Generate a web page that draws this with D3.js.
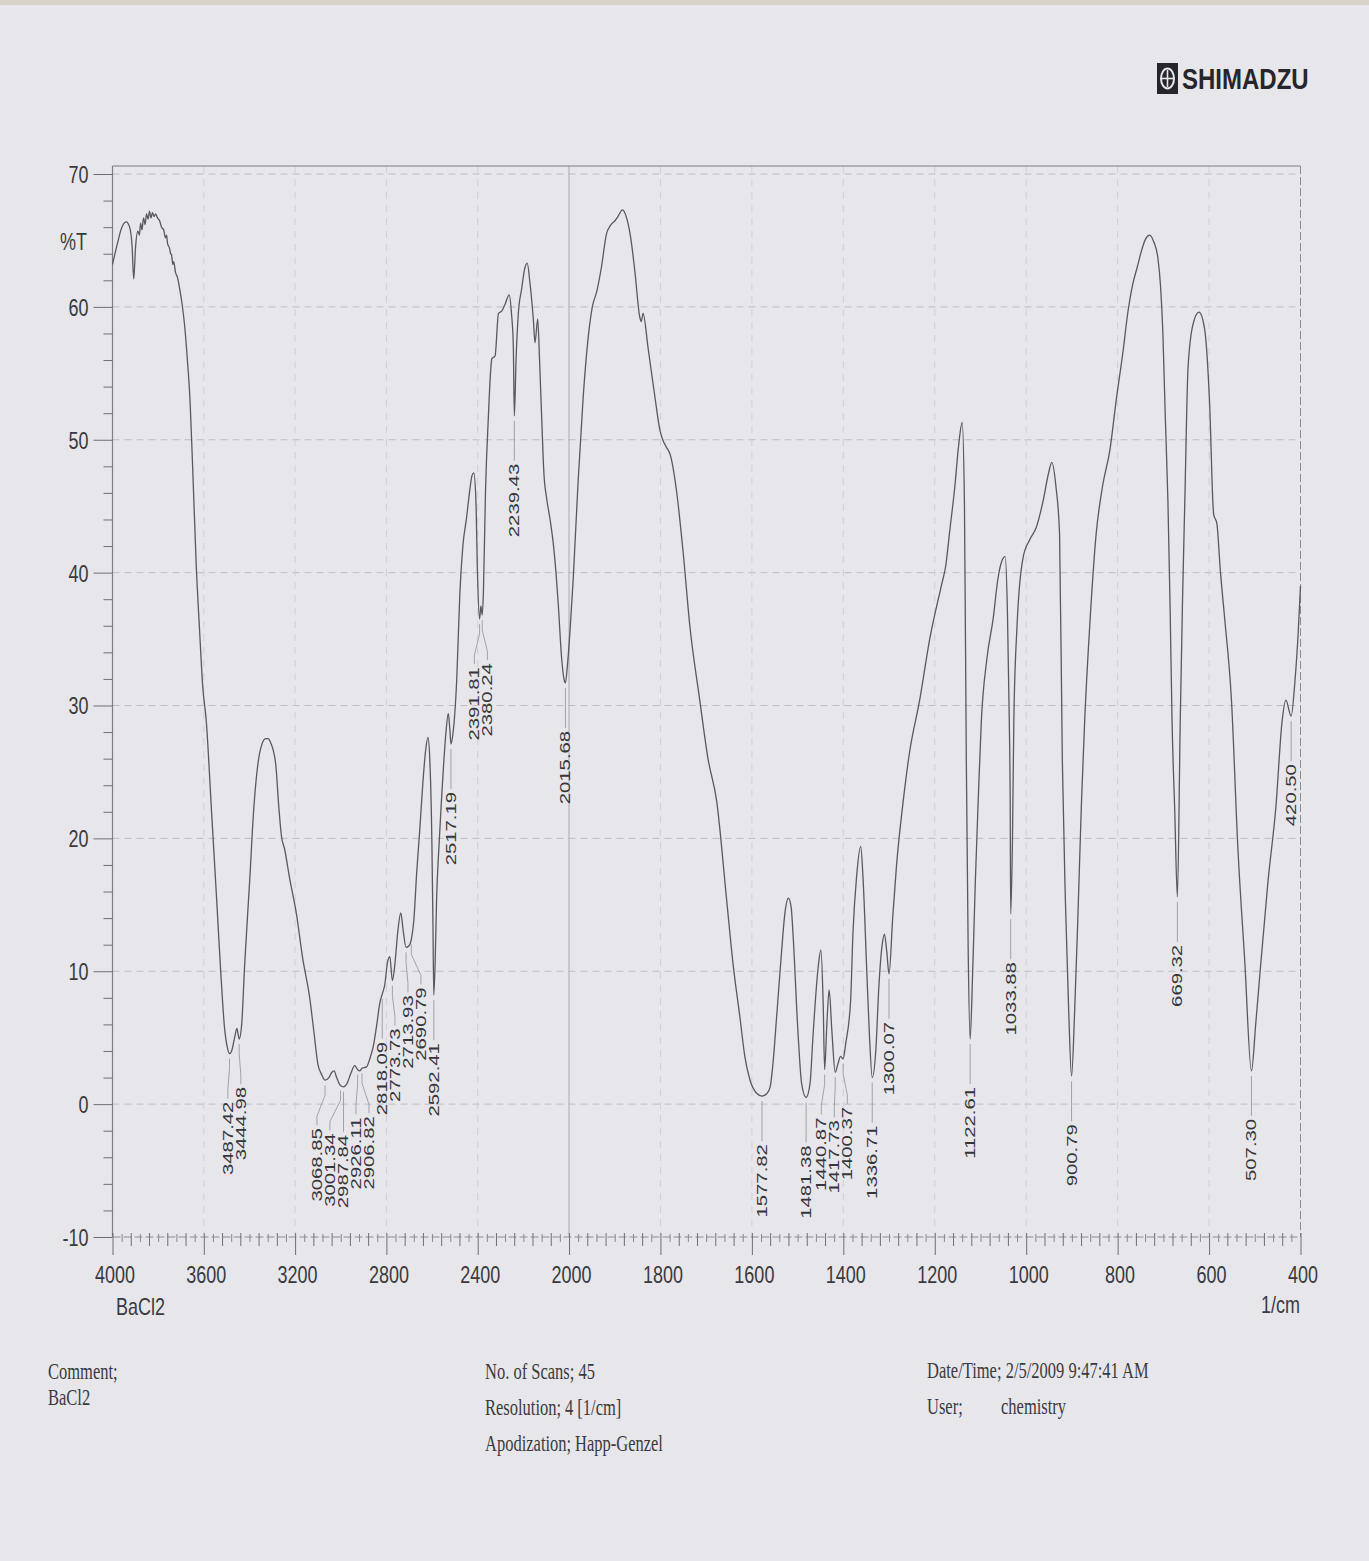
<!DOCTYPE html>
<html>
<head>
<meta charset="utf-8">
<script src="https://cdn.jsdelivr.net/npm/d3@7/dist/d3.min.js"></script>
<style>
  html, body { margin: 0; padding: 0; background: #e6e6ea; }
  svg { display: block; }
</style>
</head>
<body>
<svg id="chart" width="1369" height="1561"></svg>
<script>
// ---------- DATA ----------
const wavenumbers = [4000,3978,3961,3940,3925,3914,3907,3899,3889,3882,3877,3871,3864,3857,3851,3844,3838,3831,3825,3818,3811,3803,3794,3785,3776,3768,3763,3759,3750,3745,3741,3736,3732,3724,3715,3706,3695,3684,3671,3662,3649,3633,3618,3605,3589,3566,3545,3526,3509,3496,3487.42,3478,3465,3455,3444.98,3434,3421,3399,3382,3363,3347,3329,3319,3307,3285,3272,3260,3246,3224,3194,3167,3136,3118,3100,3083,3068.85,3052,3039,3029,3018,3001.34,2987.84,2974,2956,2939,2926.11,2917,2906.82,2887,2873,2858,2842,2829,2818.09,2807,2796,2785,2773.73,2763,2750,2737,2726,2713.93,2702,2690.79,2680,2667,2654,2641,2627,2618,2610,2601,2596,2592.41,2586,2580,2570,2560,2551,2539,2529,2522,2517.19,2509,2492,2478,2465,2449,2434,2425,2417,2408,2401,2391.81,2386,2380.24,2375,2366,2353,2344,2338,2324,2309,2294,2280,2262,2252,2244,2239.43,2232,2222,2207,2195,2183,2171,2156,2149,2137,2129,2120,2110,2098,2083,2069,2057,2047,2032,2022,2015.68,2007,1998,1991,1980,1969,1958,1949,1939,1929,1918,1910,1899,1893,1883,1874,1865,1856,1845,1842,1838,1827,1812,1801,1795,1788,1778,1765,1750,1736,1714,1696,1677,1655,1641,1626,1615,1604,1589,1577.82,1567,1560,1554,1546,1535,1528,1520,1514,1510,1499,1491,1481.38,1473,1466,1455,1449,1444,1440.87,1436,1431,1425,1417.73,1412,1406,1400.37,1395,1384,1379,1371,1362,1357,1349,1343,1336.71,1329,1322,1315,1310,1305,1300.07,1292,1284,1269,1255,1233,1211,1185,1176,1167,1156,1148,1140,1135,1131,1127,1122.61,1117,1111,1105,1098,1086,1072,1062,1054,1046,1041,1037,1035,1033.88,1030,1027,1020,1007,992,978,963,951,944,935,927,921,914,907,900.79,894,887,879,872,861,847,833,817,803,788,778,767,757,748,739,730,721,712,706,701,696,690,685,681,675,669.32,663,658,653,646,635,622,610,599,590,583,575,566,551,537,522,507.3,498,490,471,454,440,432,420.5,412,405,400];
const transmittance = [63.2,64.8,65.9,66.4,66.0,64.5,62.1,64.5,65.7,65.4,66.3,65.8,66.7,66.2,67.0,66.6,67.2,66.7,67.1,66.8,67.0,66.7,66.5,66.0,65.8,65.2,65.4,64.8,64.4,64.0,63.9,63.2,63.4,62.6,62.2,61.4,60.2,58.6,55.8,53.5,48.0,40.5,35.5,31.5,28.8,22.0,15.8,10.0,5.7,4.2,3.8,4.0,5.0,5.7,4.9,6.0,10.5,16.8,22.0,25.6,27.0,27.5,27.5,27.2,25.6,22.5,20.2,19.2,17.0,14.3,11.0,8.0,5.5,3.0,2.2,1.8,2.0,2.4,2.5,2.0,1.4,1.3,1.5,2.3,2.9,2.6,2.5,2.7,2.8,3.4,4.3,6.0,7.6,8.3,9.0,10.6,11.1,9.3,10.5,13.0,14.4,13.0,11.8,11.9,12.4,13.8,17.5,20.6,24.0,26.8,27.6,26.0,20.0,13.5,8.2,11.0,15.5,19.3,22.5,25.1,28.0,29.4,28.2,27.1,27.8,31.9,38.5,42.0,44.1,46.3,47.3,47.5,45.5,40.0,36.5,37.5,36.8,38.5,46.0,51.8,55.0,56.1,56.3,59.5,59.7,60.2,60.9,59.5,57.1,51.8,56.0,59.5,61.4,62.8,63.3,61.8,59.0,57.3,59.1,56.0,51.8,47.5,45.6,44.0,42.2,40.0,37.6,33.5,32.0,31.7,33.0,35.5,39.4,46.9,53.2,57.7,60.0,61.2,63.0,65.5,66.1,66.5,66.8,67.3,66.7,65.2,62.7,59.2,58.9,59.5,56.9,53.2,50.7,50.0,49.5,48.8,46.2,41.4,36.1,30.4,26.0,22.8,15.3,10.5,6.5,3.5,1.8,0.8,0.6,0.8,1.3,3.0,6.5,11.5,14.3,15.5,14.8,12.8,5.3,1.5,0.5,1.5,5.3,10.3,11.6,7.5,2.6,6.0,8.6,5.5,2.4,3.0,3.6,3.4,4.5,7.8,12.8,17.1,19.4,17.1,10.3,5.3,2.0,4.0,9.0,12.0,12.8,11.5,9.8,14.0,17.8,22.8,26.5,30.4,35.0,39.1,40.5,43.2,46.5,49.5,51.3,45.0,26.0,12.0,4.9,10.0,17.0,22.8,28.9,33.5,36.6,39.5,40.8,41.2,37.0,28.9,22.8,14.3,20.0,28.9,36.0,41.1,42.5,43.4,45.4,47.5,48.3,46.5,42.9,26.0,15.0,7.0,2.1,7.0,14.0,22.8,28.9,36.0,42.9,46.5,49.2,53.0,56.7,59.5,61.7,63.0,64.2,65.1,65.4,64.9,63.7,61.5,58.0,52.0,45.4,37.0,28.9,22.0,15.6,28.9,38.0,45.4,55.4,58.7,59.6,58.4,52.9,44.4,43.7,40.0,36.6,30.4,19.3,10.8,2.5,6.0,9.3,16.8,22.3,28.9,30.4,29.2,31.9,35.5,39.0];

const peakWavenumbers = [3487.42,3444.98,3068.85,3001.34,2987.84,2926.11,2906.82,2818.09,2773.73,2713.93,2690.79,2592.41,2517.19,2391.81,2380.24,2239.43,2015.68,1577.82,1481.38,1440.87,1417.73,1400.37,1336.71,1300.07,1122.61,1033.88,900.79,669.32,507.30,420.50];
const peakLabels = ["3487.42","3444.98","3068.85","3001.34","2987.84","2926.11","2906.82","2818.09","2773.73","2713.93","2690.79","2592.41","2517.19","2391.81","2380.24","2239.43","2015.68","1577.82","1481.38","1440.87","1417.73","1400.37","1336.71","1300.07","1122.61","1033.88","900.79","669.32","507.30","420.50"];

const xTickValues = [4000,3600,3200,2800,2400,2000,1800,1600,1400,1200,1000,800,600,400];
const yTickValues = [-10,0,10,20,30,40,50,60,70];

const infoLeft = ["Comment;", "BaCl2"];
const infoMid = [["No. of Scans;", "45"], ["Resolution;", "4 [1/cm]"], ["Apodization;", "Happ-Genzel"]];
const infoRight = [["Date/Time;", "2/5/2009 9:47:41 AM"], ["User;", "chemistry"]];

// ---------- LAYOUT ----------
const svg = d3.select("#chart");
const left = 112.5, right = 1300.5, frameTop = 166, bottom = 1237;
const x = d3.scaleLinear().domain([4000, 2000, 400]).range([left, 569, right]);
const y = d3.scaleLinear().domain([-10, 70]).range([bottom, 174]);

const SANS = "'Liberation Sans', Arial, sans-serif";
const SERIF = "'Liberation Serif', 'Times New Roman', serif";
const K = 1.3; // vertical stretch of the scanned print
const plain = d => String(d);

svg.append("rect").attr("width", 1369).attr("height", 1561).attr("fill", "#e7e7eb");
svg.append("rect").attr("width", 1369).attr("height", 5).attr("fill", "#d8d4cc");

// ---------- grid ----------
const grid = svg.append("g");
grid.selectAll("line.h").data(yTickValues.filter(v => v > -10)).join("line")
  .attr("x1", left).attr("x2", right)
  .attr("y1", d => y(d)).attr("y2", d => y(d))
  .attr("stroke", "#bdbdc2").attr("stroke-width", 1).attr("stroke-dasharray", "7,5");
grid.selectAll("line.v").data(xTickValues.filter(v => v !== 4000 && v !== 2000 && v !== 400)).join("line")
  .attr("x1", d => x(d)).attr("x2", d => x(d))
  .attr("y1", frameTop).attr("y2", bottom)
  .attr("stroke", "#cfcfd4").attr("stroke-width", 1).attr("stroke-dasharray", "7,6");
grid.append("line").attr("x1", x(2000)).attr("x2", x(2000)).attr("y1", frameTop).attr("y2", bottom)
  .attr("stroke", "#a9a9ae").attr("stroke-width", 1);

// ---------- frame ----------
svg.append("line").attr("x1", left).attr("x2", right).attr("y1", frameTop).attr("y2", frameTop)
  .attr("stroke", "#7d7d82").attr("stroke-width", 1.2);
svg.append("line").attr("x1", left).attr("x2", left).attr("y1", frameTop).attr("y2", bottom)
  .attr("stroke", "#7d7d82").attr("stroke-width", 1.2);
svg.append("line").attr("x1", right).attr("x2", right).attr("y1", frameTop).attr("y2", bottom)
  .attr("stroke", "#8c8c91").attr("stroke-width", 1).attr("stroke-dasharray", "8,3");
svg.append("line").attr("x1", left).attr("x2", right).attr("y1", bottom).attr("y2", bottom)
  .attr("stroke", "#8c8c91").attr("stroke-width", 1).attr("stroke-dasharray", "8,3");

// ---------- axes ----------
function styleAxis(g) {
  g.select(".domain").remove();
  g.selectAll(".tick line").attr("stroke", "#6e6e73").attr("stroke-width", 1);
}
const yAxisG = svg.append("g").attr("transform", `translate(${left},0)`)
  .call(d3.axisLeft(y).tickValues(yTickValues).tickSize(19).tickFormat(plain));
styleAxis(yAxisG);
yAxisG.selectAll(".tick text")
  .attr("x", -24).attr("dy", null).attr("y", 0)
  .attr("transform", `translate(0,${0.358 * 18 * K}) scale(1,${K})`)
  .attr("font-family", SANS).attr("font-size", 18).attr("fill", "#3a3a3e").attr("text-anchor", "end");
const yMinor = d3.range(-10, 70.01, 2).filter(v => !yTickValues.includes(v));
styleAxis(svg.append("g").attr("transform", `translate(${left},0)`)
  .call(d3.axisLeft(y).tickValues(yMinor).tickSize(9).tickFormat("")));

const xAxisG = svg.append("g").attr("transform", `translate(0,${bottom})`)
  .call(d3.axisBottom(x).tickValues(xTickValues).tickSize(18).tickFormat(plain));
styleAxis(xAxisG);
xAxisG.selectAll(".tick line").attr("y1", -4);
xAxisG.selectAll(".tick text")
  .attr("y", 0).attr("dy", null)
  .attr("transform", `translate(2,46) scale(1,${K})`)
  .attr("font-family", SANS).attr("font-size", 18).attr("fill", "#3a3a3e");
const minorA = d3.range(3920, 2000, -80).filter(v => !xTickValues.includes(v));
const minorB = d3.range(1960, 400, -40).filter(v => !xTickValues.includes(v));
const microA = d3.range(3960, 2000, -80);
const microB = d3.range(1980, 400, -40);
const xm = svg.append("g").attr("transform", `translate(0,${bottom})`)
  .call(d3.axisBottom(x).tickValues(minorA.concat(minorB)).tickSize(9).tickFormat(""));
styleAxis(xm); xm.selectAll(".tick line").attr("y1", -4);
const xu = svg.append("g").attr("transform", `translate(0,${bottom})`)
  .call(d3.axisBottom(x).tickValues(microA.concat(microB)).tickSize(5).tickFormat(""));
styleAxis(xu); xu.selectAll(".tick line").attr("y1", -3).attr("stroke", "#8a8a8f");

function sText(parent, tx, ty, str, size, family, anchor, k, extra) {
  const t = parent.append("text")
    .attr("transform", `translate(${tx},${ty}) scale(1,${k})`)
    .attr("font-family", family).attr("font-size", size)
    .attr("text-anchor", anchor).attr("fill", "#3a3a3e").text(str);
  if (extra) extra(t);
  return t;
}
sText(svg, 87, 250, "%T", 18, SANS, "end", K);
sText(svg, 116, 1315, "BaCl2", 18, SANS, "start", K);
sText(svg, 1300, 1313, "1/cm", 18, SANS, "end", K);

// ---------- spectrum ----------
const spectrum = wavenumbers.map((w, i) => ({ w, t: transmittance[i] }));
const line = d3.line().x(d => x(d.w)).y(d => y(d.t)).curve(d3.curveMonotoneX);
svg.append("path").datum(spectrum)
  .attr("d", line).attr("fill", "none")
  .attr("stroke", "#58585d").attr("stroke-width", 1.3).attr("stroke-linejoin", "round");

// ---------- peak labels ----------
const LK = 1.45, LFS = 14, GAP = 13;
const peaks = peakWavenumbers.map((w, i) => {
  const idx = wavenumbers.findIndex(v => Math.abs(v - w) < 0.02);
  const t = transmittance[idx];
  return { w, label: peakLabels[i], px: x(w), py: y(t), lx: x(w) };
}).sort((a, b) => a.px - b.px);
for (let it = 0; it < 400; it++) {
  for (let i = 1; i < peaks.length; i++) {
    const d = peaks[i].lx - peaks[i - 1].lx;
    if (d < GAP) {
      const s = (GAP - d) / 2;
      peaks[i - 1].lx -= s; peaks[i].lx += s;
    }
  }
}
const lab = svg.append("g");
peaks.forEach(p => {
  const ty = p.py + 48;
  let path;
  if (Math.abs(p.lx - p.px) < 0.8) {
    path = `M${p.px},${p.py + 5}V${ty - 3}`;
  } else {
    path = `M${p.px},${p.py + 5}V${p.py + 15}L${p.lx},${p.py + 36}V${ty - 3}`;
  }
  lab.append("path").attr("d", path).attr("fill", "none")
    .attr("stroke", "#9a9a9f").attr("stroke-width", 0.9);
  lab.append("text")
    .attr("transform", `translate(${p.lx + 0.358 * LFS},${ty}) scale(1,${LK}) rotate(-90)`)
    .attr("font-family", SANS).attr("font-size", LFS)
    .attr("text-anchor", "end").attr("fill", "#36363a").text(p.label);
});

// ---------- logo ----------
const logo = svg.append("g");
logo.append("rect").attr("x", 1157).attr("y", 63).attr("width", 21).attr("height", 31).attr("fill", "#26262a");
logo.append("ellipse").attr("cx", 1167.5).attr("cy", 78.5).attr("rx", 6.5).attr("ry", 10)
  .attr("fill", "none").attr("stroke", "#e7e7eb").attr("stroke-width", 2);
logo.append("line").attr("x1", 1161).attr("x2", 1174).attr("y1", 78.5).attr("y2", 78.5)
  .attr("stroke", "#e7e7eb").attr("stroke-width", 1.6);
logo.append("line").attr("x1", 1167.5).attr("x2", 1167.5).attr("y1", 70).attr("y2", 87)
  .attr("stroke", "#e7e7eb").attr("stroke-width", 1.6);
sText(logo, 1182, 89, "SHIMADZU", 24, SANS, "start", 1.22, t => t.attr("font-weight", "bold").attr("fill", "#26262a"));

// ---------- info block ----------
const INFO_FS = 16.5, IK = 1.35;
sText(svg, 48, 1379, infoLeft[0], INFO_FS, SERIF, "start", IK);
sText(svg, 48, 1405, infoLeft[1], INFO_FS, SERIF, "start", IK);
const midY = [1379, 1415, 1451], midX2 = [null, 565, 575];
infoMid.forEach((row, i) => {
  if (i === 0) {
    sText(svg, 485, midY[i], row[0] + " " + row[1], INFO_FS, SERIF, "start", IK);
  } else {
    sText(svg, 485, midY[i], row[0], INFO_FS, SERIF, "start", IK);
    sText(svg, midX2[i], midY[i], row[1], INFO_FS, SERIF, "start", IK);
  }
});
sText(svg, 927, 1378, infoRight[0][0] + " " + infoRight[0][1], INFO_FS, SERIF, "start", IK);
sText(svg, 927, 1414, infoRight[1][0], INFO_FS, SERIF, "start", IK);
sText(svg, 1001, 1414, infoRight[1][1], INFO_FS, SERIF, "start", IK);
</script>
</body>
</html>
